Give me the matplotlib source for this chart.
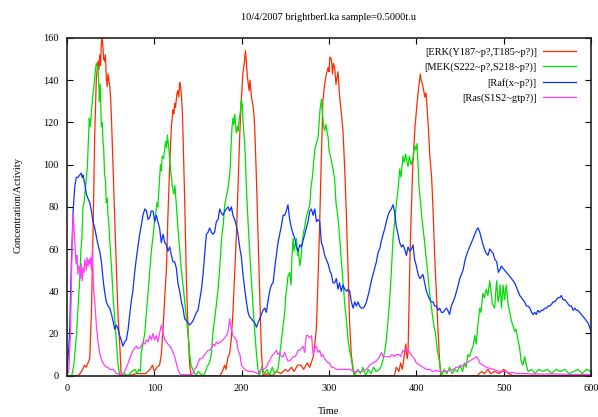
import numpy as np
import matplotlib
matplotlib.use("Agg")
import matplotlib.pyplot as plt

# (time, value) pairs
erk = [(0, 0), (12, 0), (15, 1), (18, 3), (20, 5), (22, 4), (24, 6), (26, 8), (28, 30), (29.8, 67),
       (31.7, 114), (33.6, 141), (35.5, 149), (36.5, 145), (37.4, 152), (38.4, 147), (39.4, 158),
       (40.5, 160), (41.2, 155), (42, 150), (43.1, 149), (44, 152), (45, 141), (46, 137), (47, 143),
       (48, 140), (49, 137), (50, 131), (51, 121), (52.7, 100), (54.6, 75), (56.6, 50), (58.5, 28),
       (60.5, 14), (62, 0), (70, 0), (80, 1), (90, 1), (95, 3), (98, 5), (100, 2), (103, 4), (106, 5),
       (108, 10), (110, 22), (112, 38), (113.8, 50), (115.5, 75), (117.6, 100), (119.5, 118),
       (121.4, 126), (122.3, 124), (123.3, 129), (124.2, 127), (125.2, 131), (126, 134), (127, 135),
       (128, 132), (129, 139), (130, 137), (131, 133), (132, 126), (132.8, 115), (134.7, 84),
       (136.7, 45), (138.6, 22), (140.5, 5), (142, 0), (175, 0), (178, 2), (180.5, 5), (182, 3),
       (184.4, 9), (186, 10), (188, 17), (190, 30), (192, 48), (194, 67), (196, 92), (197.8, 114),
       (199.5, 130), (201.5, 144), (203, 148), (204.3, 154), (205.5, 148), (206.5, 142), (207.3, 139),
       (208.5, 135), (209.5, 140), (211, 133), (212, 130), (213, 128), (214, 124), (215, 117),
       (217, 92), (218.7, 67), (220.6, 40), (222.6, 11), (224.5, 0), (230, 1), (235, 0), (240, 2),
       (245, 1), (250, 3), (253, 2), (257, 4), (260, 2), (264, 5), (268, 5), (271, 3), (275, 6),
       (278, 4), (282, 9), (283.5, 14), (285.5, 22), (287, 40), (289, 67), (291, 100), (293, 130),
       (295, 138), (297, 143), (299, 146), (300, 144), (301, 151), (302.7, 150), (304, 143),
       (305, 148), (306.5, 146), (308, 138), (309, 141), (310.3, 144), (312, 133), (314, 125),
       (316, 116), (318, 98), (320, 75), (322, 48), (323.7, 24), (325.5, 10), (327.6, 3), (330, 0),
       (375, 0), (377, 4), (380, 2), (382, 6), (384, 3), (386, 9), (388, 15), (389.5, 8), (390.5, 11),
       (392.4, 50), (394, 75), (396, 100), (398.5, 118), (400.8, 129), (402.5, 136), (404.6, 143),
       (405.5, 140), (407, 138), (408.5, 135), (409.6, 132), (411, 134), (412, 129), (414, 116),
       (415.3, 105), (417.5, 94), (419, 80), (421, 57), (423, 38), (424.8, 22), (426.5, 8), (428, 0),
       (470, 0), (472, 1), (475, 2), (478, 1), (482, 3), (485, 1), (490, 2), (495, 1), (500, 3),
       (503, 2), (506, 1), (510, 0), (600, 0)]

mek = [(0, 0), (5, 0), (6, 1), (8, 6), (11, 20), (13, 35), (14.5, 45), (16, 60), (17, 65), (18.3, 80),
       (19.5, 82), (21.4, 90), (22.2, 94), (23.5, 100), (24.5, 112), (25.5, 122), (26.5, 118),
       (27.5, 122), (28.5, 128), (29.8, 133), (31, 138), (31.7, 141), (32.6, 145), (33.6, 148),
       (34.4, 147), (35.5, 146), (36.5, 137), (37, 130), (38, 138), (39.4, 118), (40.3, 120),
       (41.2, 111), (42, 108), (43, 95), (44, 93), (45, 82), (46, 84), (47, 76), (48, 72), (49, 64),
       (51, 51), (52.7, 38), (54.6, 27), (56.6, 16), (58.5, 5), (60.5, 0), (66, 1), (70, 0), (74, 2),
       (78, 3), (80, 1), (82, 3), (84, 2), (85, 11), (87, 15), (89, 20), (91, 30), (92.7, 39),
       (94.5, 48), (96.6, 59), (98.5, 66), (100.4, 74), (102, 78), (103, 82), (104, 80), (105.5, 90),
       (107, 100), (108, 97), (109, 104), (110.7, 103), (112, 108), (113, 111), (114, 108), (115, 114),
       (116, 110), (117.6, 103), (118.5, 98), (119.6, 94), (120.5, 90), (121.5, 88), (122.5, 86),
       (123.5, 90), (125, 82), (127, 70), (129, 60), (131, 50), (133.6, 40), (136, 30), (138.6, 20),
       (140.5, 10), (142, 5), (145, 2), (148, 0), (150, 2), (153, 1), (156, 0), (157.7, 1), (160, 4),
       (163, 6), (165.3, 10), (167, 20), (170, 30), (173, 41), (175, 52), (177, 65), (179, 72),
       (180.6, 81), (182, 84), (184.4, 89), (186, 94), (187, 100), (188, 110), (189, 118), (190, 122),
       (191, 119), (192, 124), (193, 119), (194, 115), (195, 118), (195.8, 116), (197, 121),
       (198.5, 125), (199.7, 131), (200.8, 128), (201.5, 121), (202.5, 115), (203.5, 110),
       (204.5, 100), (205.4, 89), (207.3, 73), (209, 60), (211, 46), (213, 33), (215, 21), (217, 10),
       (218.7, 3), (220, 0), (223, 4), (226, 1), (229, 3), (232, 0), (235, 4), (238, 1), (241.6, 3),
       (243, 8), (245.5, 17), (247, 22), (249.3, 30), (250.5, 38), (251.5, 41), (253, 47), (255, 49),
       (256.5, 43), (257.5, 55), (258.8, 65), (260, 59), (261, 62), (262.7, 65), (264, 57), (265, 60),
       (266.5, 52), (268, 56), (269, 62), (270.4, 67), (272, 70), (274, 75), (276, 78), (278, 81),
       (279.5, 90), (281, 94), (283.7, 107), (285.5, 110), (287.5, 113), (289.5, 125), (291.3, 131),
       (292.5, 124), (294, 118), (295, 116), (296.5, 119), (298, 115), (299, 113), (300, 107),
       (302, 103), (304.6, 98), (306.5, 93), (308, 82), (310, 76), (312.3, 65), (314, 55), (316, 45),
       (318, 34), (320, 26), (321.8, 17), (323.5, 12), (325.7, 8), (327, 4), (329, 0), (333, 3),
       (336, 1), (339, 4), (342, 0), (345, 3), (348, 1), (351, 4), (354, 2), (358, 3), (361, 6),
       (364, 12), (365.7, 17), (368, 28), (369.5, 36), (371.5, 50), (373.3, 65), (375, 72), (377, 81),
       (379, 88), (381, 98), (382.5, 94), (384.7, 104), (386, 101), (387.7, 105), (389, 102),
       (390.5, 99), (392, 104), (394, 100), (396.2, 103), (398, 109), (399.5, 107), (400.8, 110),
       (402, 100), (403, 90), (405, 81), (407, 72), (409, 65), (411, 57), (413, 49), (415, 40),
       (418, 30), (420, 24), (422, 20), (424, 12), (426, 8), (428.7, 0), (432, 3), (435, 1), (438, 4),
       (441, 1), (444, 3), (447, 2), (450, 5), (453, 2), (455, 6), (457, 4), (459, 10), (461, 9),
       (463, 12), (465, 14), (467, 19), (468.5, 15), (470, 22), (471.5, 28), (472.6, 32), (474, 30),
       (476.3, 39), (478, 37), (480, 41), (482, 38), (484, 45), (485.5, 40), (487, 34), (489.7, 32),
       (491, 40), (492, 45), (493.6, 35), (495, 38), (496, 43), (497.5, 32), (499.3, 43), (501, 36),
       (503, 43), (505, 34), (507, 30), (508.8, 26), (510.5, 24), (512.6, 21), (514, 22), (516.4, 17),
       (518, 14), (520, 7), (522, 5), (524, 9), (526, 5), (528, 2), (532, 3), (536, 1), (540, 3),
       (545, 2), (550, 3), (555, 1), (560, 3), (565, 2), (570, 3), (575, 1), (580, 2), (585, 3),
       (590, 1), (595, 3), (600, 2)]

raf = [(0, 0), (3, 20), (5, 53), (7, 78), (9, 90), (10.7, 94), (12.5, 94), (14.5, 95), (16.4, 96),
       (17.5, 94), (18.3, 95), (20.3, 91), (22.2, 86), (24, 84), (26, 82), (28, 78), (29.8, 73),
       (31.7, 70), (33.6, 66), (35.5, 62), (37.4, 59), (39.4, 54), (41.2, 46), (43, 40), (45, 35),
       (47, 33), (49, 32), (51, 29), (52.7, 26), (54.6, 22), (56.6, 24), (58.5, 22), (60.3, 19),
       (62, 17), (64, 14), (66, 16), (68, 17), (70, 22), (71.8, 29), (73.5, 35), (75.6, 41),
       (77.5, 49), (79.5, 56), (81.5, 62), (83.2, 67), (85, 71), (87, 76), (89, 79), (91, 78),
       (92.8, 74), (94.7, 75), (96.5, 78), (98.5, 78), (100.5, 73), (102.4, 76), (104, 73), (106, 70),
       (108, 63), (110, 67), (112, 63), (113.8, 62), (115.5, 59), (117.6, 61), (119.5, 57),
       (121.4, 54), (123.3, 54), (125.2, 51), (127, 44), (129, 40), (131, 35), (132.8, 32),
       (134.7, 27), (136.7, 26), (138.6, 25), (140.5, 24), (142.5, 25), (144.3, 26), (146.3, 28),
       (148.2, 30), (150, 31), (152, 36), (154, 41), (155.8, 48), (157.7, 58), (159.6, 67),
       (161.5, 68), (163.4, 70), (165.3, 68), (167.2, 67), (169, 68), (171, 73), (173, 74),
       (174.9, 79), (176.8, 77), (178.7, 76), (180.6, 78), (182.5, 79), (184.4, 80), (186.3, 78),
       (188.2, 80), (190, 76), (192, 74), (194, 71), (195.8, 67), (197.7, 61), (199.7, 56),
       (201.5, 48), (203.5, 41), (205.4, 35), (207.3, 30), (209, 28), (211, 27), (213, 26), (215, 25),
       (217, 23), (218.7, 25), (220.6, 27), (222.6, 29), (224.5, 31), (226.4, 32), (228.3, 30),
       (230, 35), (232, 40), (234, 43), (236, 44), (237.8, 51), (239.7, 57), (241.6, 63), (243.5, 67),
       (245.5, 71), (247.4, 76), (249.3, 76), (251, 78), (253, 81), (255, 74), (257, 70), (259, 67),
       (260.8, 65), (262.7, 61), (264.6, 59), (266.5, 62), (268.4, 61), (270.3, 64), (272.2, 67),
       (274, 70), (276, 73), (278, 78), (279.9, 79), (281.8, 76), (283.7, 79), (285.6, 73),
       (287.5, 74), (289.4, 73), (291.3, 63), (293, 61), (295, 57), (297, 55), (299, 53),
       (300.8, 50), (302.7, 48), (304.6, 44), (306.5, 44), (308.4, 46), (310.3, 41), (312, 44),
       (314, 40), (316, 43), (318, 41), (320, 40), (322, 41), (323.7, 40), (325.6, 35), (327.6, 32),
       (329.5, 35), (331.4, 33), (333.3, 35), (335, 33), (337, 32), (339, 32), (341, 33),
       (342.9, 35), (344.8, 38), (346.6, 41), (348.5, 45), (350.4, 48), (352.3, 51), (354.3, 54),
       (356, 58), (358, 60), (360, 64), (362, 67), (364, 70), (365.7, 73), (367.6, 76), (369.5, 78),
       (371.4, 79), (373.3, 81), (375, 78), (377, 71), (379, 67), (381, 63), (383, 61), (384.7, 62),
       (386.6, 60), (388.6, 57), (390.5, 61), (392.4, 59), (394.3, 60), (396.2, 62), (398, 55),
       (400, 52), (402, 48), (404, 46), (406, 47), (407.6, 48), (409.5, 44), (411.5, 40),
       (413.4, 38), (415.3, 36), (417, 35), (419, 35), (421, 33), (423, 33), (425, 31), (426.8, 32),
       (428.7, 30), (430.6, 30), (432.5, 31), (434.4, 32), (436, 31), (438, 29), (440, 33), (442, 35),
       (444, 37), (446, 40), (448, 43), (449.7, 46), (451.6, 48), (453.5, 50), (455.4, 54),
       (457.3, 57), (459, 59), (461, 61), (463, 63), (465, 65), (467, 67), (468.8, 69), (470.7, 70),
       (472.6, 68), (474.5, 65), (476.4, 62), (478, 60), (480, 58), (482, 57), (484, 60), (486, 59),
       (488, 58), (490, 55), (492, 54), (494, 49), (495.5, 50), (497.4, 52), (499, 51), (501, 50),
       (503, 49), (505, 48), (507, 47), (509, 46), (510.7, 45), (512.6, 44), (514.5, 42),
       (516.4, 40), (518.4, 38), (520.3, 37), (522, 36), (524, 35), (526, 33), (528, 33), (530, 32),
       (532, 30), (533.7, 29), (535.6, 30), (537.5, 29), (539, 31), (541, 30), (543, 31), (545, 31),
       (547, 32), (549, 32), (551, 33), (553, 33), (555, 34), (556.6, 35), (558.5, 35), (560.4, 36),
       (562.3, 37), (564.2, 37), (566, 38), (568, 36), (570, 36), (571.8, 35), (573.7, 34),
       (575.6, 33), (577.5, 33), (579.5, 31), (581.4, 32), (583.3, 31), (585, 31), (587, 30),
       (589, 29), (591, 28), (593, 27), (594.7, 26), (596.6, 25), (598.5, 23), (600, 21)]

ras = [(0, 0), (2, 2), (4, 20), (5.5, 55), (7, 77), (8, 70), (9, 63), (10, 55), (10.7, 53), (11.5, 57),
       (12.5, 48), (13.5, 52), (14.5, 50), (15.5, 46), (16.5, 53), (17.5, 45), (18.3, 51), (19.5, 49),
       (20.5, 55), (21.5, 52), (22.2, 50), (23, 56), (24, 52), (25, 55), (26, 53), (27, 56), (28, 50),
       (29, 60), (30.6, 40), (32, 34), (33.6, 24), (35.5, 16), (37.4, 11), (39, 8), (41.2, 6), (43, 5),
       (45, 4), (47, 4), (49, 3), (51, 3), (52.7, 3), (54.6, 2), (56.6, 1), (58.5, 1), (60.5, 0),
       (62, 0.5), (64, 1), (66, 2), (68, 4), (70, 6), (71.8, 8), (73.5, 10), (75.6, 12), (77.5, 13),
       (79.5, 14), (81, 13), (83.2, 13), (85, 14), (87, 16), (89, 15), (91, 17), (92.8, 16),
       (94.7, 19), (96.6, 17), (98.5, 20), (100.4, 17), (102.4, 19), (104, 16), (106, 20), (108, 24),
       (110, 20), (112, 17), (113.8, 16), (115.5, 15), (117.6, 14), (119.5, 13), (121.4, 11),
       (123.3, 9), (125.2, 6), (127, 3), (129, 1), (131, 0.5), (135, 0.5), (140, 0.5), (144.3, 1),
       (146, 3), (148.2, 4), (150, 6), (152, 8), (154, 8), (155.8, 9), (157.7, 10), (159.6, 11),
       (161.5, 12), (163.4, 12), (165.3, 13), (167.2, 15), (169, 14), (171, 16), (173, 15),
       (174.9, 16), (176.8, 16), (178.7, 17), (180.6, 18), (182.5, 19), (184.4, 21), (185.3, 24),
       (186.3, 27), (187.3, 24), (188.2, 22), (190, 19), (192, 18), (194, 17), (196, 12), (198, 10),
       (199.7, 5), (201.5, 4), (203.5, 3), (205.4, 2.5), (208, 2), (211, 2), (213, 2), (216, 1.5),
       (218.7, 1), (220.6, 2), (222.6, 3), (225, 3), (228.3, 4), (230, 6), (232, 7), (234, 9),
       (236, 10), (238, 11), (240, 12), (241.6, 10), (243.5, 11), (245.5, 9), (247.4, 9), (249.3, 11),
       (251, 9), (253, 7), (255, 7), (257, 8), (259, 9), (260.8, 9), (262.7, 10), (264.6, 12),
       (266.5, 12), (268.4, 13), (270.3, 14), (272.2, 11), (273, 15), (274, 19), (276, 19), (278, 18),
       (280, 19), (281.8, 10), (283.7, 13), (285.6, 14), (287.5, 11), (289.4, 12), (291.3, 9),
       (293, 10), (295, 8), (297, 7), (299, 6), (300.8, 6), (302.7, 4), (305, 4), (308.5, 3),
       (312, 3), (316, 3), (320, 3), (323.7, 3), (328, 2), (331.4, 2), (335, 2), (339, 2), (343, 3),
       (346.6, 5), (350, 6), (354.3, 7), (358, 9), (360, 11), (362, 9), (364, 9), (366, 9),
       (369.5, 9), (372, 10), (375, 9), (377, 10), (380, 10), (382, 9), (384.7, 12), (386.6, 11),
       (389, 13), (390.5, 12), (392.4, 11), (394, 10), (396, 9), (398, 8), (400, 6), (404, 5),
       (407.6, 4), (411.5, 3), (415.3, 3), (419, 2), (423, 2.5), (427, 2), (430.6, 2), (434.4, 2),
       (438, 2.5), (442, 3), (446, 4), (449.7, 4), (453.5, 5), (457.3, 6), (461, 7), (465, 8),
       (468.8, 9), (470.7, 8), (472.6, 6), (476.4, 5), (480, 4), (484, 3.5), (488, 3), (492, 2.5),
       (495.7, 2), (500, 2), (505, 1.5), (510.7, 1.5), (515, 1), (518.4, 1), (525, 1), (535, 0.8),
       (550, 0.8), (565, 0.8), (580, 0.6), (600, 0.6)]

labels = ["[ERK(Y187~p?,T185~p?)]", "[MEK(S222~p?,S218~p?)]", "[Raf(x~p?)]", "[Ras(S1S2~gtp?)]"]
colors = ["#ff2a00", "#00e000", "#0a32ff", "#ff40ff"]

title = "10/4/2007 brightberl.ka sample=0.5000t.u"
x_ticks = [0, 100, 200, 300, 400, 500, 600]
y_ticks = [0, 20, 40, 60, 80, 100, 120, 140, 160]

plt.rcParams['font.family'] = ['Liberation Serif', 'DejaVu Serif']

fig = plt.figure(figsize=(5.98, 4.17), dpi=100)
ax = fig.add_axes([67 / 598, 41.3 / 417, 524 / 598, 337.7 / 417])

for series, lab, col in zip([erk, mek, raf, ras], labels, colors):
    arr = np.array(series)
    ax.plot(arr[:, 0], arr[:, 1], color=col, lw=0.9, label=lab)

ax.set_xlim(0, 600)
ax.set_ylim(0, 160)
ax.set_xticks(x_ticks)
ax.set_yticks(y_ticks)
ax.tick_params(direction='in', length=4, width=0.8, top=True, right=True,
               labelsize=7.5, pad=6, colors='black')
for sp in ax.spines.values():
    sp.set_linewidth(1.2)
    sp.set_color('#222222')

fig.text(0.55, 1 - 17 / 417, title, ha='center', va='center', fontsize=7.5)
fig.text(329 / 598, 1 - 412 / 417, "Time", ha='center', va='center', fontsize=7.5)
fig.text(18 / 598, 1 - 205 / 417, "Concentration/Activity", ha='center', va='center',
         rotation=90, fontsize=7.5)

leg = ax.legend(loc='upper right', bbox_to_anchor=(0.98, 0.985), frameon=False,
                markerfirst=False, fontsize=7.5, handlelength=3.2, handletextpad=0.6,
                labelspacing=0.55, borderaxespad=0)

fig.savefig("out.png", dpi=100)
